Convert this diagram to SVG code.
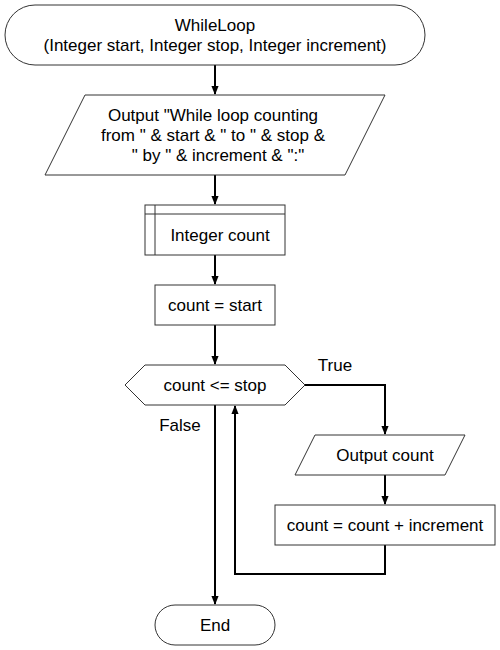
<svg xmlns="http://www.w3.org/2000/svg" width="500" height="650" viewBox="0 0 500 650">
<style>
.n{fill:#fff;stroke:#333;stroke-width:1}
.t{font-family:"Liberation Sans",Arial,sans-serif;font-size:17px;fill:#000;text-anchor:middle}
.c{fill:none;stroke:#000;stroke-width:2}
</style>
<defs>
<marker id="ah" viewBox="0 0 10 8" refX="9" refY="4" markerWidth="9" markerHeight="8" orient="auto" markerUnits="userSpaceOnUse">
<path d="M0,0 L10,4 L0,8 z" fill="#000"/>
</marker>
</defs>
<rect width="500" height="650" fill="#fff"/>
<g id="connectors">
<path class="c" d="M215,65 V94" marker-end="url(#ah)"/>
<path class="c" d="M215,175 V204" marker-end="url(#ah)"/>
<path class="c" d="M215,255 V284" marker-end="url(#ah)"/>
<path class="c" d="M215,325 V364" marker-end="url(#ah)"/>
<path class="c" d="M305,385 H385 V434" marker-end="url(#ah)"/>
<path class="c" d="M385,475 V504" marker-end="url(#ah)"/>
<path class="c" d="M385,545 V574 H235 V406" marker-end="url(#ah)"/>
<path class="c" d="M215,405 V604" marker-end="url(#ah)"/>
<text class="t" x="335" y="371">True</text>
<text class="t" x="180" y="431">False</text>
</g>
<g id="start">
<rect class="n" x="5" y="5" width="420" height="60" rx="30" ry="30"/>
<text class="t" x="215" y="31">WhileLoop</text>
<text class="t" x="215" y="51">(Integer start, Integer stop, Integer increment)</text>
</g>
<g id="output1">
<polygon class="n" points="85,95 385,95 345,175 45,175"/>
<text class="t" x="213" y="121">Output "While loop counting</text>
<text class="t" x="213" y="141">from " &amp; start &amp; " to " &amp; stop &amp;</text>
<text class="t" x="218" y="161">" by " &amp; increment &amp; ":"</text>
</g>
<g id="declare">
<rect class="n" x="145" y="205" width="140" height="50"/>
<line class="n" x1="155" y1="205" x2="155" y2="255"/>
<line class="n" x1="145" y1="214" x2="285" y2="214"/>
<text class="t" x="220" y="241">Integer count</text>
</g>
<g id="assign">
<rect class="n" x="155" y="285" width="120" height="40"/>
<text class="t" x="215" y="311">count = start</text>
</g>
<g id="decision">
<polygon class="n" points="125,385 145,365 285,365 305,385 285,405 145,405"/>
<text class="t" x="215" y="391">count &lt;= stop</text>
</g>
<g id="output2">
<polygon class="n" points="315,435 465,435 445,475 295,475"/>
<text class="t" x="385" y="461">Output count</text>
</g>
<g id="increment">
<rect class="n" x="275" y="505" width="220" height="40"/>
<text class="t" x="385" y="531">count = count + increment</text>
</g>
<g id="end">
<rect class="n" x="155" y="605" width="120" height="40" rx="20" ry="20"/>
<text class="t" x="215" y="631">End</text>
</g>
</svg>
